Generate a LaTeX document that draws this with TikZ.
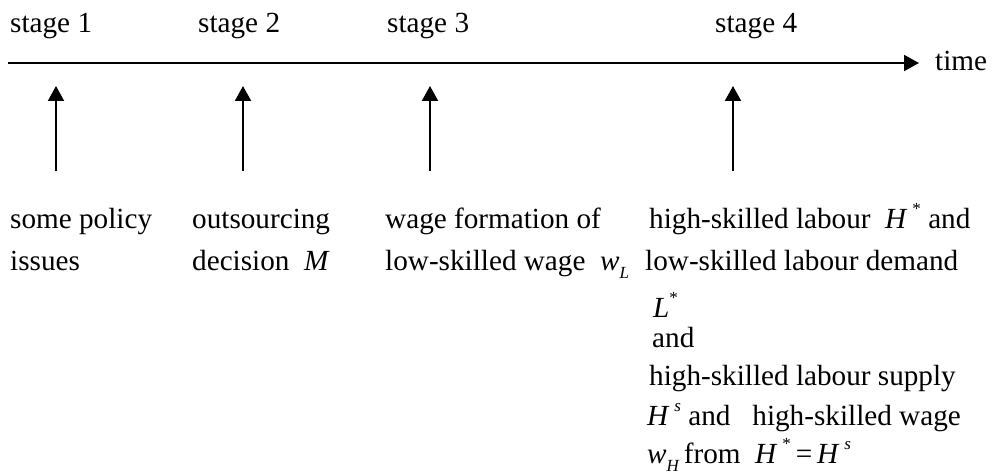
\documentclass[tikz,border=0pt]{standalone}
\usepackage{fontspec}
\setmainfont{Liberation Serif}
\usetikzlibrary{arrows.meta}
\newcommand{\supx}[1]{\raisebox{0.45em}{\fontsize{17}{17}\selectfont #1}}
\newcommand{\subx}[1]{\raisebox{-0.28em}{\fontsize{17}{17}\selectfont\itshape #1}}
\begin{document}
\begin{tikzpicture}[x=1pt,y=-1pt,
  txt/.style={anchor=base west,inner sep=0pt,font=\fontsize{29.2}{35}\selectfont},
  arr/.style={line width=2pt,-{Triangle[length=15pt,width=16pt]}}]
\useasboundingbox (0,0) rectangle (1006,476);
% timeline
\coordinate (ls) at (8,63);
\coordinate (le) at (919,63);
\draw[arr] (ls) -- (le);
\node[txt] (time) at (935,71) {time};
% stage labels
\node[txt] (s1) at (10,33) {stage 1};
\node[txt] (s2) at (198,33) {stage 2};
\node[txt] (s3) at (387,33) {stage 3};
\node[txt] (s4) at (715,33) {stage 4};
% vertical arrows
\foreach \i/\x in {1/56,2/243,3/430,4/733}{
  \coordinate (b\i) at (\x,171);
  \coordinate (t\i) at (\x,86);
  \draw[arr] (b\i) -- (t\i);
}
% column 1
\node[txt] (c1a) at (10,228) {some policy};
\node[txt] (c1b) at (10,270) {issues};
% column 2
\node[txt] (c2a) at (192,228) {outsourcing};
\node[txt] (c2b) at (192,270) {decision\ \ \textit{M}};
% column 3
\node[txt] (c3a) at (385,228) {wage formation of};
\node[txt] (c3b) at (385,270) {low-skilled wage\ \ \textit{w}\subx{L}};
% column 4
\node[txt] (c4a) at (649,228) {high-skilled labour\ \ \textit{H}\,\supx{*}\ and};
\node[txt] (c4b) at (645,270) {low-skilled labour demand};
\node[txt] (c4c) at (653,317) {\textit{L}\supx{*}};
\node[txt] (c4d) at (652,347) {and};
\node[txt] (c4e) at (649,385) {high-skilled labour supply};
\node[txt] (c4f) at (647,425) {\textit{H}\,\supx{\textit{s}}\ and\ \ \ high-skilled wage};
\node[txt] (c4g) at (647,463) {\textit{w}\subx{H}\,from\ \ \textit{H}\,\supx{*}\,=\,\textit{H}\,\supx{\textit{s}}};
\end{tikzpicture}
\end{document}
